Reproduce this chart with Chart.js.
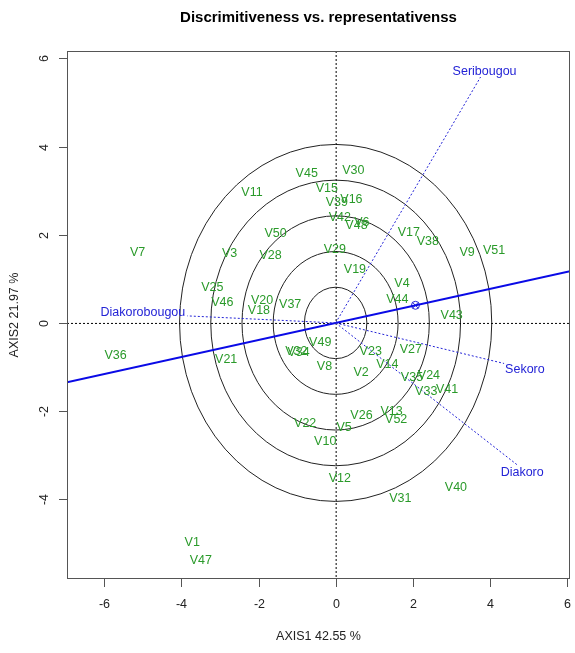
<!DOCTYPE html>
<html>
<head>
<meta charset="utf-8">
<script src="https://cdn.jsdelivr.net/npm/chart.js@4.4.0/dist/chart.umd.js"></script>
<style>
  body { margin: 0; background: #fff; }
  canvas { display: block; }
</style>
</head>
<body>
<canvas id="biplot" width="575" height="653"></canvas>
<script>
// GGE biplot: discrimitiveness vs. representativeness

// Genotypes
const genoNames = ['V1','V2','V3','V4','V5','V6','V7','V8','V9','V10',
    'V11','V12','V13','V14','V15','V16','V17','V18','V19','V20',
    'V21','V22','V23','V24','V25','V26','V27','V28','V29','V30',
    'V31','V32','V33','V34','V35','V36','V37','V38','V39','V40',
    'V41','V42','V43','V44','V45','V46','V47','V48','V49','V50',
    'V51','V52'];
const genoX = [-3.72, 0.66, -2.75, 1.72, 0.22, 0.68, -5.14, -0.29, 3.41, -0.27,
    -2.17, 0.11, 1.45, 1.34, -0.23, 0.41, 1.90, -1.99, 0.50, -1.91,
    -2.84, -0.79, 0.91, 2.42, -3.20, 0.67, 1.95, -1.69, -0.02, 0.46,
    1.68, -1.02, 2.35, -0.96, 1.98, -5.71, -1.18, 2.39, 0.03, 3.12,
    2.89, 0.11, 3.01, 1.60, -0.75, -2.94, -3.50, 0.54, -0.40, -1.56,
    4.11, 1.57];
const genoY = [-4.98, -1.13, 1.58, 0.90, -2.38, 2.27, 1.60, -0.99, 1.59, -2.69,
    2.95, -3.52, -2.00, -0.95, 3.05, 2.79, 2.05, 0.28, 1.22, 0.50,
    -0.83, -2.28, -0.64, -1.20, 0.81, -2.11, -0.61, 1.52, 1.67, 3.45,
    -3.99, -0.66, -1.56, -0.68, -1.24, -0.73, 0.41, 1.84, 2.73, -3.74,
    -1.52, 2.39, 0.16, 0.54, 3.38, 0.46, -5.38, 2.20, -0.45, 2.02,
    1.65, -2.20];

// Environments (vector ends) and where the label sits (R text pos: 1 below, 2 left, 3 above, 4 right)
const envNames = ['Seribougou', 'Diakorobougou', 'Sekoro', 'Diakoro'];
const envX = [3.76, -3.85, 4.37, 4.71];
const envY = [5.58, 0.16, -0.92, -3.22];
const envPos = [3, 2, 4, 1];

// Average environment
const avgEnvX = 2.07;
const avgEnvY = 0.40;

// Concentric circles
const circleRadii = [0.81, 1.62, 2.43, 3.24, 4.05];

// Axes
const xRange = [-6.97, 6.08];
const yRange = [-5.81, 6.17];
const xTicks = [-6, -4, -2, 0, 2, 4, 6];
const yTicks = [-4, -2, 0, 2, 4, 6];
const chartTitle = 'Discrimitiveness vs. representativenss';
const xTitle = 'AXIS1 42.55 %';
const yTitle = 'AXIS2 21.97 %';

const FONT = '"Liberation Sans", Arial, sans-serif';
const GREEN = '#2a9a2a';
const BLUE = '#2323d6';

const aeaSlope = avgEnvY / avgEnvX;

const biplotPlugin = {
    id: 'biplot',
    beforeDatasetsDraw(chart) {
        const { ctx, chartArea: a, scales: { x, y } } = chart;
        const cx = x.getPixelForValue(0);
        const cy = y.getPixelForValue(0);
        ctx.save();
        ctx.beginPath();
        ctx.rect(a.left, a.top, a.right - a.left, a.bottom - a.top);
        ctx.clip();
        // circles
        ctx.strokeStyle = '#222';
        ctx.lineWidth = 1;
        circleRadii.forEach(r => {
            const rx = x.getPixelForValue(r) - cx;
            const ry = cy - y.getPixelForValue(r);
            ctx.beginPath();
            ctx.ellipse(cx, cy, rx, ry, 0, 0, Math.PI * 2);
            ctx.stroke();
        });
        // dotted zero lines
        ctx.setLineDash([2, 2]);
        ctx.strokeStyle = '#000';
        ctx.beginPath();
        ctx.moveTo(a.left, cy + 0.5);
        ctx.lineTo(a.right, cy + 0.5);
        ctx.moveTo(cx + 0.5, a.top);
        ctx.lineTo(cx + 0.5, a.bottom);
        ctx.stroke();
        ctx.restore();
    },
    afterDatasetsDraw(chart) {
        const { ctx } = chart;
        ctx.save();
        ctx.font = '12.5px ' + FONT;
        // genotype labels
        const gMeta = chart.getDatasetMeta(chart.data.datasets.findIndex(d => d.id === 'geno'));
        ctx.fillStyle = GREEN;
        ctx.textAlign = 'center';
        ctx.textBaseline = 'middle';
        gMeta.data.forEach((p, i) => ctx.fillText(genoNames[i], p.x, p.y));
        // environment labels
        ctx.fillStyle = BLUE;
        const eMeta = chart.getDatasetMeta(chart.data.datasets.findIndex(d => d.id === 'envpts'));
        eMeta.data.forEach((p, i) => {
            const pos = envPos[i];
            let tx = p.x, ty = p.y;
            if (pos === 1) { ctx.textAlign = 'center'; ctx.textBaseline = 'top'; ty += 1; tx += 5; }
            if (pos === 2) { ctx.textAlign = 'right'; ctx.textBaseline = 'middle'; tx -= 2; ty -= 3; }
            if (pos === 3) { ctx.textAlign = 'center'; ctx.textBaseline = 'bottom'; ty += 1; tx += 4; }
            if (pos === 4) { ctx.textAlign = 'left'; ctx.textBaseline = 'middle'; tx += 1; ty += 6; }
            ctx.fillText(envNames[i], tx, ty);
        });
        ctx.restore();
    },
    afterDraw(chart) {
        const { ctx, chartArea: a, scales: { x, y } } = chart;
        ctx.save();
        ctx.strokeStyle = '#555';
        ctx.lineWidth = 1;
        ctx.strokeRect(a.left + 0.5, a.top + 0.5, a.right - a.left - 1, a.bottom - a.top - 1);
        ctx.fillStyle = '#222';
        ctx.font = '12.5px ' + FONT;
        // x ticks
        ctx.textAlign = 'center';
        ctx.textBaseline = 'middle';
        xTicks.forEach(t => {
            const px = Math.round(x.getPixelForValue(t)) + 0.5;
            ctx.beginPath();
            ctx.moveTo(px, a.bottom);
            ctx.lineTo(px, a.bottom + 8);
            ctx.stroke();
            ctx.fillText(String(t), px, a.bottom + 26);
        });
        // y ticks (rotated labels, R style)
        yTicks.forEach(t => {
            const py = Math.round(y.getPixelForValue(t)) + 0.5;
            ctx.beginPath();
            ctx.moveTo(a.left, py);
            ctx.lineTo(a.left - 8, py);
            ctx.stroke();
            ctx.save();
            ctx.translate(a.left - 22, py);
            ctx.rotate(-Math.PI / 2);
            ctx.fillText(String(t), 0, 0);
            ctx.restore();
        });
        // axis titles
        const midX = (a.left + a.right) / 2;
        const midY = (a.top + a.bottom) / 2;
        ctx.fillText(xTitle, midX, a.bottom + 58);
        ctx.save();
        ctx.translate(15, midY);
        ctx.rotate(-Math.PI / 2);
        ctx.fillText(yTitle, 0, 0);
        ctx.restore();
        // main title
        ctx.fillStyle = '#000';
        ctx.font = 'bold 15px ' + FONT;
        ctx.fillText(chartTitle, midX, 18);
        ctx.restore();
    }
};

const envVectors = envNames.map((name, i) => ({
    id: 'env' + i,
    type: 'line',
    data: [{ x: 0, y: 0 }, { x: envX[i], y: envY[i] }],
    borderColor: BLUE,
    borderWidth: 1,
    borderDash: [2, 2],
    pointRadius: 0,
    fill: false
}));

const datasets = [
    ...envVectors,
    {
        id: 'aea',
        type: 'line',
        data: [
            { x: xRange[0], y: xRange[0] * aeaSlope },
            { x: xRange[1], y: xRange[1] * aeaSlope }
        ],
        borderColor: '#0a0ae6',
        borderWidth: 2,
        pointRadius: 0,
        fill: false
    },
    {
        id: 'avgCircle',
        type: 'scatter',
        data: [{ x: avgEnvX, y: avgEnvY }],
        pointStyle: 'circle',
        pointRadius: 4,
        borderColor: BLUE,
        backgroundColor: 'rgba(0,0,0,0)',
        borderWidth: 1
    },
    {
        id: 'avgCross',
        type: 'scatter',
        data: [{ x: avgEnvX, y: avgEnvY }],
        pointStyle: 'crossRot',
        pointRadius: 4,
        borderColor: BLUE,
        borderWidth: 1
    },
    {
        id: 'envpts',
        type: 'scatter',
        data: envX.map((v, i) => ({ x: v, y: envY[i] })),
        pointRadius: 0
    },
    {
        id: 'geno',
        type: 'scatter',
        data: genoX.map((v, i) => ({ x: v, y: genoY[i] })),
        pointRadius: 0
    }
];

new Chart(document.getElementById('biplot').getContext('2d'), {
    type: 'scatter',
    data: { datasets: datasets },
    options: {
        responsive: false,
        animation: false,
        devicePixelRatio: 1,
        layout: {
            padding: { left: 67, right: 2, top: 51, bottom: 74 }
        },
        plugins: {
            legend: { display: false },
            tooltip: { enabled: false }
        },
        scales: {
            x: { type: 'linear', min: xRange[0], max: xRange[1], display: false },
            y: { type: 'linear', min: yRange[0], max: yRange[1], display: false }
        }
    },
    plugins: [biplotPlugin]
});
</script>
</body>
</html>
